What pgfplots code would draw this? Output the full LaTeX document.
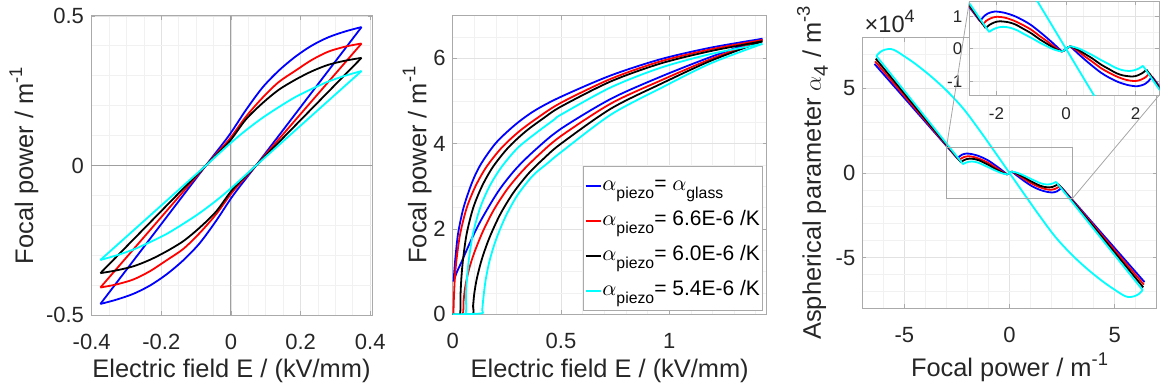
\documentclass[border=0pt]{standalone}
\usepackage{pgfplots}
\pgfplotsset{compat=1.18}
\usepackage{fontspec}
\setmainfont{Liberation Sans}
\definecolor{axgray}{RGB}{170,170,170}
\definecolor{txtgray}{RGB}{38,38,38}
\definecolor{gridmaj}{RGB}{226,226,226}
\definecolor{gridmin}{RGB}{241,241,241}
\definecolor{mblue}{RGB}{0,0,255}
\definecolor{mred}{RGB}{255,0,0}
\definecolor{mcyan}{RGB}{0,255,255}
\newcommand{\sub}[1]{\raisebox{-4pt}{\fontsize{7.9}{8}\selectfont #1}}
\newcommand{\ap}{$\alpha$\sub{piezo}}
\newcommand{\supm}[1]{\raisebox{5.5pt}{\fontsize{9.2}{9}\selectfont #1}}
\pgfplotsset{
  mystyle/.style={
    scale only axis,
    axis line style={axgray, line width=0.5pt},
    tick style={axgray, line width=0.4pt},
    major tick length=2pt,
    minor tick length=0pt,
    tick align=inside,
    grid=both,
    major grid style={gridmaj, line width=0.4pt},
    minor grid style={gridmin, line width=0.4pt},
    tick label style={font=\fontsize{11}{13}\selectfont, text=txtgray},
    label style={font=\fontsize{12.7}{14}\selectfont, text=txtgray},
    xticklabel shift=6pt,
    xlabel shift=-2pt,
    ylabel shift=-3pt,
    every axis plot/.append style={line width=0.9pt, no marks},
  }
}
% panel 3 curves (alpha_4 in units of 1e4)
\newcommand{\pthree}{%
  \addplot[mblue] coordinates {(-6.42,6.45) (-2.47,0.85)};
  \addplot[mblue, smooth, tension=0.5] coordinates {(-2.47,0.85) (-2.38,0.98) (-2.25,1.09) (-2.05,1.15) (-1.8,1.12) (-1.5,1.02) (-1.23,0.88) (-1.0,0.73) (-0.75,0.52) (-0.55,0.34) (-0.37,0.17) (-0.22,0.02) (-0.12,-0.07) (-0.06,-0.05) (0,0) (0.06,0.05) (0.12,0.07) (0.22,-0.02) (0.37,-0.17) (0.55,-0.34) (0.75,-0.52) (1.0,-0.73) (1.23,-0.88) (1.5,-1.02) (1.8,-1.12) (2.05,-1.15) (2.25,-1.09) (2.38,-0.98) (2.47,-0.85)};
  \addplot[mblue] coordinates {(2.47,-0.85) (6.42,-6.45)};
  \addplot[mred] coordinates {(-6.39,6.6) (-2.39,0.75)};
  \addplot[mred, smooth, tension=0.5] coordinates {(-2.39,0.75) (-2.3,0.86) (-2.15,0.95) (-1.98,0.99) (-1.75,0.96) (-1.5,0.87) (-1.23,0.73) (-1.0,0.59) (-0.75,0.39) (-0.55,0.24) (-0.37,0.09) (-0.22,-0.02) (-0.12,-0.075) (-0.06,-0.05) (0,0) (0.06,0.05) (0.12,0.075) (0.22,0.02) (0.37,-0.09) (0.55,-0.24) (0.75,-0.39) (1.0,-0.59) (1.23,-0.73) (1.5,-0.87) (1.75,-0.96) (1.98,-0.99) (2.15,-0.95) (2.3,-0.86) (2.39,-0.75)};
  \addplot[mred] coordinates {(2.39,-0.75) (6.39,-6.6)};
  \addplot[black] coordinates {(-6.36,6.76) (-2.31,0.64)};
  \addplot[black, smooth, tension=0.5] coordinates {(-2.31,0.64) (-2.2,0.74) (-2.05,0.82) (-1.9,0.85) (-1.65,0.82) (-1.45,0.75) (-1.23,0.62) (-1.0,0.48) (-0.75,0.29) (-0.55,0.16) (-0.37,0.04) (-0.22,-0.04) (-0.12,-0.08) (-0.06,-0.05) (0,0) (0.06,0.05) (0.12,0.08) (0.22,0.04) (0.37,-0.04) (0.55,-0.16) (0.75,-0.29) (1.0,-0.48) (1.23,-0.62) (1.45,-0.75) (1.65,-0.82) (1.9,-0.85) (2.05,-0.82) (2.2,-0.74) (2.31,-0.64)};
  \addplot[black] coordinates {(2.31,-0.64) (6.36,-6.76)};
  \addplot[mcyan] coordinates {(-6.33,6.92) (-2.21,0.52)};
  \addplot[mcyan, smooth, tension=0.5] coordinates {(-2.21,0.52) (-2.1,0.6) (-1.95,0.66) (-1.8,0.68) (-1.6,0.65) (-1.4,0.57) (-1.23,0.47) (-1.0,0.34) (-0.75,0.19) (-0.55,0.08) (-0.37,-0.01) (-0.22,-0.06) (-0.12,-0.08) (-0.06,-0.05) (0,0) (0.06,0.05) (0.12,0.08) (0.22,0.06) (0.37,0.01) (0.55,-0.08) (0.75,-0.19) (1.0,-0.34) (1.23,-0.47) (1.4,-0.57) (1.6,-0.65) (1.8,-0.68) (1.95,-0.66) (2.1,-0.6) (2.21,-0.52)};
  \addplot[mcyan] coordinates {(2.21,-0.52) (6.33,-6.92)};
  \addplot[mcyan, smooth, tension=0.5] coordinates {(-6.33,6.92) (-6.15,7.15) (-5.93,7.29) (-5.63,7.33) (-5.32,7.16) (-4.53,6.5) (-3.74,5.72) (-2.95,4.82) (-2.16,3.75) (-1.37,2.43) (-0.74,1.32) (0,0) (0.74,-1.32) (1.37,-2.43) (2.16,-3.75) (2.95,-4.82) (3.74,-5.72) (4.53,-6.5) (5.32,-7.16) (5.63,-7.33) (5.93,-7.29) (6.15,-7.15) (6.33,-6.92)};
}
\begin{document}
\begin{tikzpicture}
\path[use as bounding box] (0,0) rectangle (580pt,193.5pt);
% ---------------- panel 1
\begin{axis}[mystyle, at={(45.5pt,36pt)}, anchor=south west, width=140.5pt, height=149.5pt,
  xmin=-0.402, xmax=0.405, ymin=-0.5, ymax=0.5,
  xtick={-0.4,-0.2,0,0.2,0.4}, xticklabels={-0.4,-0.2,0,0.2,0.4},
  ytick={-0.5,0,0.5}, yticklabels={-0.5,0,0.5},
  minor xtick={-0.35,-0.3,-0.25,-0.15,-0.1,-0.05,0.05,0.1,0.15,0.25,0.3,0.35},
  minor ytick={-0.4,-0.3,-0.2,-0.1,0.1,0.2,0.3,0.4},
  xlabel={Electric field E / (kV/mm)}, ylabel={Focal power / m\supm{-1}}]
\addplot[gray!75, line width=0.5pt] coordinates {(0,-0.5) (0,0.5)};
\addplot[gray!75, line width=0.5pt] coordinates {(-0.402,0) (0.405,0)};
\addplot[mblue, smooth] coordinates {(0.375,0.463) (0.33,0.449) (0.28,0.429) (0.232,0.401) (0.185,0.364) (0.137,0.317) (0.09,0.260) (0.042,0.184) (-0.006,0.100) (-0.072,0) (-0.2235,-0.2315) (-0.375,-0.463)};
\addplot[mblue, smooth] coordinates {(-0.375,-0.463) (-0.33,-0.449) (-0.28,-0.429) (-0.232,-0.401) (-0.185,-0.364) (-0.137,-0.317) (-0.09,-0.260) (-0.042,-0.184) (0.006,-0.100) (0.072,0) (0.2235,0.2315) (0.375,0.463)};
\addplot[mred, smooth] coordinates {(0.375,0.408) (0.33,0.398) (0.28,0.381) (0.232,0.353) (0.185,0.317) (0.137,0.279) (0.09,0.226) (0.042,0.162) (-0.006,0.086) (-0.072,0) (-0.2235,-0.204) (-0.375,-0.408)};
\addplot[mred, smooth] coordinates {(-0.375,-0.408) (-0.33,-0.398) (-0.28,-0.381) (-0.232,-0.353) (-0.185,-0.317) (-0.137,-0.279) (-0.09,-0.226) (-0.042,-0.162) (0.006,-0.086) (0.072,0) (0.2235,0.204) (0.375,0.408)};
\addplot[black, smooth] coordinates {(0.375,0.360) (0.33,0.351) (0.28,0.337) (0.232,0.315) (0.185,0.287) (0.137,0.253) (0.09,0.208) (0.042,0.153) (-0.006,0.078) (-0.072,0) (-0.2235,-0.18) (-0.375,-0.360)};
\addplot[black, smooth] coordinates {(-0.375,-0.360) (-0.33,-0.351) (-0.28,-0.337) (-0.232,-0.315) (-0.185,-0.287) (-0.137,-0.253) (-0.09,-0.208) (-0.042,-0.153) (0.006,-0.078) (0.072,0) (0.2235,0.18) (0.375,0.360)};
\addplot[mcyan, smooth] coordinates {(0.375,0.316) (0.33,0.301) (0.28,0.281) (0.232,0.256) (0.185,0.229) (0.137,0.195) (0.09,0.159) (0.042,0.117) (-0.006,0.070) (-0.072,0) (-0.2235,-0.158) (-0.375,-0.316)};
\addplot[mcyan, smooth] coordinates {(-0.375,-0.316) (-0.33,-0.301) (-0.28,-0.281) (-0.232,-0.256) (-0.185,-0.229) (-0.137,-0.195) (-0.09,-0.159) (-0.042,-0.117) (0.006,-0.070) (0.072,0) (0.2235,0.158) (0.375,0.316)};
\end{axis}
% ---------------- panel 2
\begin{axis}[mystyle, at={(226.35pt,36.35pt)}, anchor=south west, width=157pt, height=149.3pt,
  xmin=0, xmax=1.45, ymin=0, ymax=7,
  xtick={0,0.5,1}, xticklabels={0,0.5,1},
  ytick={0,2,4,6}, yticklabels={0,2,4,6},
  minor xtick={0.1,0.2,0.3,0.4,0.6,0.7,0.8,0.9,1.1,1.2,1.3,1.4},
  minor ytick={0.5,1,1.5,2.5,3,3.5,4.5,5,5.5,6.5},
  ylabel shift=-6pt,
  xlabel={Electric field E / (kV/mm)}, ylabel={Focal power / m\supm{-1}},
  legend style={at={(0.986,0.011)}, anchor=south east, draw=axgray, line width=0.4pt, fill=white,
    font=\fontsize{10.5}{12}\selectfont, inner xsep=0.5pt, inner ysep=1.5pt, row sep=0.8pt,
    nodes={inner sep=0.5pt, text height=10pt, text depth=5.7pt}},
  legend cell align=left,
  legend image code/.code={\draw[#1, line width=0.9pt] (0pt,0pt) -- (7.5pt,0pt);}]
\addplot[mblue, smooth] coordinates {(0.004,0.77) (0.008,1.05) (0.013,1.35) (0.025,1.9) (0.05,2.5) (0.09,3.1) (0.13,3.52) (0.2,4.02) (0.29,4.45) (0.38,4.78) (0.5,5.1) (0.73,5.6) (0.96,5.98) (1.19,6.25) (1.43,6.46)};
\addlegendentry{\ap= $\alpha$\sub{glass}}
\addplot[mblue, smooth, forget plot] coordinates {(0.004,0.77) (0.02,1.0) (0.04,1.22) (0.086,1.75) (0.13,2.2) (0.21,2.88) (0.29,3.40) (0.38,3.85) (0.5,4.35) (0.73,5.05) (0.96,5.57) (1.19,6.03) (1.43,6.46)};
\addplot[mred, smooth] coordinates {(0,0) (0.003,0) (0.006,0.45) (0.01,0.85) (0.018,1.3) (0.035,1.9) (0.065,2.5) (0.105,3.0) (0.155,3.45) (0.225,3.9) (0.305,4.28) (0.39,4.6) (0.5,4.96) (0.73,5.52) (0.96,5.93) (1.19,6.21) (1.43,6.43)};
\addlegendentry{\ap= 6.6E-6 /K}
\addplot[mred, smooth, forget plot] coordinates {(0,0) (0.045,0) (0.05,0.3) (0.058,0.65) (0.075,1.05) (0.1,1.45) (0.14,1.95) (0.19,2.45) (0.25,2.92) (0.32,3.35) (0.4,3.75) (0.5,4.18) (0.73,4.94) (0.96,5.48) (1.19,5.98) (1.43,6.43)};
\addplot[black, smooth] coordinates {(0,0) (0.033,0) (0.036,0.45) (0.04,0.85) (0.048,1.3) (0.065,1.9) (0.095,2.5) (0.135,3.0) (0.185,3.45) (0.255,3.9) (0.335,4.28) (0.42,4.6) (0.5,4.87) (0.73,5.46) (0.96,5.88) (1.19,6.17) (1.43,6.40)};
\addlegendentry{\ap= 6.0E-6 /K}
\addplot[black, smooth, forget plot] coordinates {(0,0) (0.09,0) (0.094,0.2) (0.1,0.5) (0.112,0.85) (0.135,1.3) (0.17,1.8) (0.22,2.35) (0.28,2.85) (0.35,3.3) (0.42,3.65) (0.5,4.0) (0.73,4.82) (0.96,5.4) (1.19,5.94) (1.43,6.40)};
\addplot[mcyan, smooth] coordinates {(0,0) (0.058,0) (0.061,0.45) (0.066,0.85) (0.075,1.3) (0.094,1.9) (0.127,2.5) (0.17,3.0) (0.225,3.45) (0.3,3.9) (0.385,4.25) (0.47,4.57) (0.5,4.68) (0.73,5.32) (0.96,5.78) (1.19,6.1) (1.43,6.34)};
\addlegendentry{\ap= 5.4E-6 /K}
\addplot[mcyan, smooth, forget plot] coordinates {(0,0) (0.13,0.02) (0.136,0.1) (0.142,0.4) (0.152,0.8) (0.17,1.25) (0.2,1.75) (0.245,2.3) (0.3,2.8) (0.37,3.25) (0.44,3.55) (0.5,3.8) (0.73,4.68) (0.96,5.3) (1.19,5.88) (1.43,6.34)};
\end{axis}
% ---------------- panel 3 main
\begin{axis}[mystyle, name=m3, at={(431.15pt,39.35pt)}, anchor=south west, width=147.2pt, height=135.3pt,
  xmin=-7, xmax=7, ymin=-8, ymax=8,
  xtick={-5,0,5}, xticklabels={-5,0,5},
  ytick={-5,0,5}, yticklabels={-5,0,5},
  minor xtick={-6,-4,-3,-2,-1,1,2,3,4,6},
  minor ytick={-7,-6,-4,-3,-2,-1,1,2,3,4,6,7},
  xlabel={Focal power / m\supm{-1}},
  ylabel={Aspherical parameter $\alpha$\raisebox{-3.5pt}{\fontsize{10}{10}\selectfont 4} / m\supm{-3}}]
\pthree
\draw[gray!70, line width=0.4pt] (axis cs:-3,-1.5) rectangle (axis cs:3,1.5);
\coordinate (rTL) at (axis cs:-3,1.5);
\coordinate (rBR) at (axis cs:3,-1.5);
\end{axis}
\node[anchor=south west, inner sep=0pt, font=\fontsize{11.8}{13}\selectfont, text=txtgray] at ([xshift=1pt,yshift=2.3pt]m3.north west) {\texttimes10\raisebox{4.8pt}{\fontsize{9}{9}\selectfont 4}};
% ---------------- inset
\begin{axis}[mystyle, name=ins, at={(484.65pt,146pt)}, anchor=south west, width=95pt, height=46.75pt,
  xmin=-2.78, xmax=2.68, ymin=-1.42, ymax=1.46,
  xtick={-2,0,2}, xticklabels={-2,0,2},
  ytick={-1,0,1}, yticklabels={-1,0,1},
  minor xtick={-2.5,-1.5,-1,-0.5,0.5,1,1.5,2.5},
  minor ytick={-0.5,0.5},
  xticklabel shift=3pt,
  tick label style={font=\fontsize{8.5}{10}\selectfont, text=txtgray},
  axis background/.style={fill=white}]
\pthree
\end{axis}
\draw[gray!70, line width=0.4pt] (rTL) -- (ins.north west);
\draw[gray!70, line width=0.4pt] (rBR) -- (ins.south east);
\end{tikzpicture}
\end{document}
